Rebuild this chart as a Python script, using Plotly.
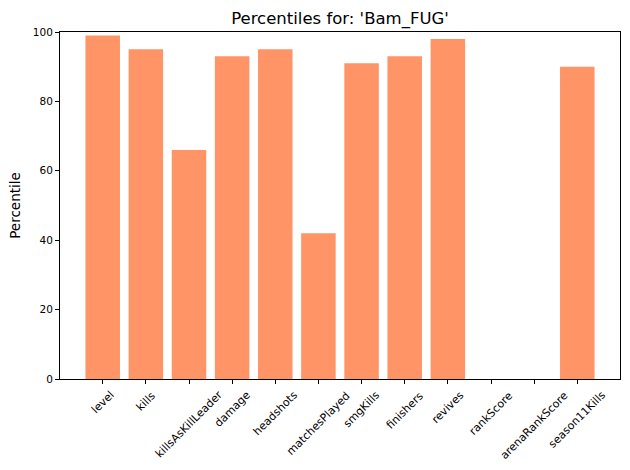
import plotly.graph_objects as go

categories = ["level", "kills", "killsAsKillLeader", "damage", "headshots",
              "matchesPlayed", "smgKills", "finishers", "revives", "rankScore",
              "arenaRankScore", "season11Kills"]
percentiles = [99, 95, 66, 93, 95, 42, 91, 93, 98, 0, 0, 90]
y_ticks = [0, 20, 40, 60, 80, 100]
player = "Bam_FUG"

positions = list(range(len(categories)))

fig = go.Figure(go.Bar(
    x=positions, y=percentiles, width=0.8,
    marker=dict(color="#FF9567", line=dict(width=0)),
))

font = "DejaVu Sans, sans-serif"
fig.update_layout(
    width=630, height=470,
    margin=dict(l=60, r=10, t=32, b=91),
    paper_bgcolor="white", plot_bgcolor="white",
    showlegend=False,
    font=dict(family=font, color="black"),
    title=dict(text=f"Percentiles for: '{player}'", x=(60 + 620) / 2 / 630, xanchor="center",
               y=1 - 18 / 470, yanchor="middle", font=dict(size=16.5, family=font, color="black")),
)
# Rotated category labels, centred on each tick like matplotlib's rotation=45
for pos, cat in zip(positions, categories):
    fig.add_annotation(
        x=pos, xref="x", y=0, yref="paper", yshift=-7,
        text=cat, showarrow=False, textangle=-45,
        xanchor="center", yanchor="top",
        font=dict(size=11, family=font, color="black"),
    )
fig.update_xaxes(
    range=[-0.99, 11.99], tickmode="array", tickvals=positions,
    showticklabels=False,
    ticks="outside", ticklen=4, tickcolor="black", tickwidth=1,
    showline=True, linecolor="black", linewidth=1, mirror=True,
    showgrid=False, zeroline=False,
)
fig.update_yaxes(
    range=[0, 100], tickmode="array", tickvals=y_ticks, tickfont=dict(size=10.5, family=font),
    ticks="outside", ticklen=4, tickcolor="black", tickwidth=1,
    showline=True, linecolor="black", linewidth=1, mirror=True,
    showgrid=False, zeroline=False,
    title=dict(text="Percentile", font=dict(size=13.5, family=font), standoff=9),
)
fig.write_html("out.html")
